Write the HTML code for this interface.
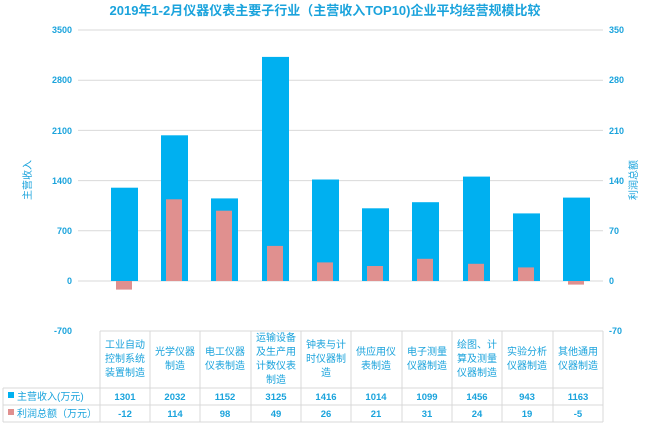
<!DOCTYPE html>
<html><head><meta charset="utf-8"><style>
body{margin:0;background:#fff;width:650px;height:423px;overflow:hidden}
text{font-family:"Liberation Sans","Noto Sans CJK SC",sans-serif;fill:#1aa3dc}
</style></head><body>
<svg width="650" height="423" viewBox="0 0 650 423" xmlns="http://www.w3.org/2000/svg">
<text x="325" y="15" text-anchor="middle" font-size="13" font-weight="bold">2019年1-2月仪器仪表主要子行业（主营收入TOP10)企业平均经营规模比较</text>
<g stroke="#d9d9d9" stroke-width="1">
<line x1="78" y1="30" x2="603" y2="30"/><line x1="78" y1="80.2" x2="603" y2="80.2"/>
<line x1="78" y1="130.4" x2="603" y2="130.4"/><line x1="78" y1="180.6" x2="603" y2="180.6"/>
<line x1="78" y1="230.8" x2="603" y2="230.8"/><line x1="78" y1="281" x2="603" y2="281"/>
</g>
<g font-size="9" font-weight="bold" text-anchor="end">
<text x="72" y="33">3500</text><text x="72" y="83">2800</text><text x="72" y="134">2100</text>
<text x="72" y="184">1400</text><text x="72" y="234">700</text><text x="72" y="284">0</text><text x="72" y="334">-700</text>
</g>
<g font-size="9" font-weight="bold" text-anchor="start">
<text x="609" y="33">350</text><text x="609" y="83">280</text><text x="609" y="134">210</text>
<text x="609" y="184">140</text><text x="609" y="234">70</text><text x="609" y="284">0</text><text x="609" y="334">-70</text>
</g>
<text transform="translate(31,180) rotate(-90)" font-size="10" text-anchor="middle">主营收入</text>
<text transform="translate(637,180) rotate(-90)" font-size="10" text-anchor="middle">利润总额</text>
<g fill="#00b0f0">
<rect x="111" y="187.7" width="27" height="93.3"/>
<rect x="161" y="135.3" width="27" height="145.7"/>
<rect x="211" y="198.4" width="27" height="82.6"/>
<rect x="262" y="56.9" width="27" height="224.1"/>
<rect x="312" y="179.5" width="27" height="101.5"/>
<rect x="362" y="208.3" width="27" height="72.7"/>
<rect x="412" y="202.2" width="27" height="78.8"/>
<rect x="463" y="176.6" width="27" height="104.4"/>
<rect x="513" y="213.4" width="27" height="67.6"/>
<rect x="563" y="197.6" width="27" height="83.4"/>
</g>
<g fill="#e0908f">
<rect x="116" y="281" width="16" height="8.6"/>
<rect x="166" y="199.3" width="16" height="81.7"/>
<rect x="216" y="210.7" width="16" height="70.3"/>
<rect x="267" y="245.9" width="16" height="35.1"/>
<rect x="317" y="262.4" width="16" height="18.6"/>
<rect x="367" y="266" width="16" height="15"/>
<rect x="417" y="258.8" width="16" height="22.2"/>
<rect x="468" y="263.8" width="16" height="17.2"/>
<rect x="518" y="267.4" width="16" height="13.6"/>
<rect x="568" y="281" width="16" height="3.6"/>
</g>
<g stroke="#d9d9d9" stroke-width="1" fill="none">
<line x1="100" y1="331" x2="603" y2="331"/>
<line x1="3" y1="388" x2="603" y2="388"/><line x1="3" y1="405" x2="603" y2="405"/><line x1="3" y1="422" x2="603" y2="422"/>
<line x1="3" y1="388" x2="3" y2="422"/>
<line x1="100" y1="331" x2="100" y2="422"/><line x1="150" y1="331" x2="150" y2="422"/><line x1="200" y1="331" x2="200" y2="422"/>
<line x1="251" y1="331" x2="251" y2="422"/><line x1="301" y1="331" x2="301" y2="422"/><line x1="351" y1="331" x2="351" y2="422"/>
<line x1="402" y1="331" x2="402" y2="422"/><line x1="452" y1="331" x2="452" y2="422"/><line x1="502" y1="331" x2="502" y2="422"/>
<line x1="553" y1="331" x2="553" y2="422"/><line x1="603" y1="331" x2="603" y2="422"/>
</g>
<g font-size="10" text-anchor="middle">
<text x="125" y="348">工业自动</text><text x="125" y="362">控制系统</text><text x="125" y="376">装置制造</text>
<text x="175" y="355">光学仪器</text><text x="175" y="369">制造</text>
<text x="225" y="355">电工仪器</text><text x="225" y="369">仪表制造</text>
<text x="276" y="341">运输设备</text><text x="276" y="355">及生产用</text><text x="276" y="369">计数仪表</text><text x="276" y="383">制造</text>
<text x="326" y="348">钟表与计</text><text x="326" y="362">时仪器制</text><text x="326" y="376">造</text>
<text x="376" y="355">供应用仪</text><text x="376" y="369">表制造</text>
<text x="427" y="355">电子测量</text><text x="427" y="369">仪器制造</text>
<text x="477" y="348">绘图、计</text><text x="477" y="362">算及测量</text><text x="477" y="376">仪器制造</text>
<text x="527" y="355">实验分析</text><text x="527" y="369">仪器制造</text>
<text x="578" y="355">其他通用</text><text x="578" y="369">仪器制造</text>
</g>
<rect x="8" y="392" width="6" height="6" fill="#00b0f0"/>
<rect x="8" y="409" width="6" height="6" fill="#e0908f"/>
<text x="17" y="400" font-size="10">主营收入(万元)</text>
<text x="17" y="417" font-size="10">利润总额（万元）</text>
<g font-size="9.5" font-weight="bold" text-anchor="middle">
<text x="125" y="400">1301</text><text x="175" y="400">2032</text><text x="225" y="400">1152</text><text x="276" y="400">3125</text><text x="326" y="400">1416</text>
<text x="376" y="400">1014</text><text x="427" y="400">1099</text><text x="477" y="400">1456</text><text x="527" y="400">943</text><text x="578" y="400">1163</text>
<text x="125" y="417">-12</text><text x="175" y="417">114</text><text x="225" y="417">98</text><text x="276" y="417">49</text><text x="326" y="417">26</text>
<text x="376" y="417">21</text><text x="427" y="417">31</text><text x="477" y="417">24</text><text x="527" y="417">19</text><text x="578" y="417">-5</text>
</g>
</svg>
</body></html>
